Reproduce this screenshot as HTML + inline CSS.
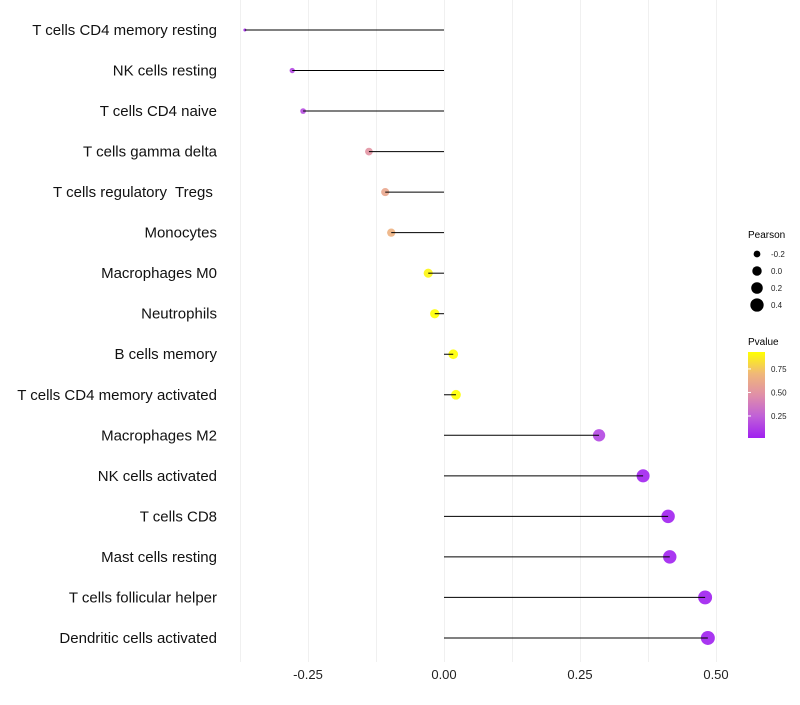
<!DOCTYPE html>
<html><head><meta charset="utf-8"><style>
body{margin:0;background:#fff;}
svg{font-family:"Liberation Sans",sans-serif;}
text{white-space:pre;}
</style></head><body>
<svg id="chart" width="800" height="700">
<g id="grid"></g>
<g id="marks"></g>
<g id="ylabels"></g>
<g id="xlabels"></g>
<g>
<text x="748" y="238" font-size="10">Pearson</text>
<g id="sizeleg"></g>
</g>
<g>
<text x="748" y="345" font-size="10">Pvalue</text>
<defs><linearGradient id="pg" x1="0" y1="1" x2="0" y2="0">
<stop offset="0" stop-color="#a020f0"/><stop offset="0.25" stop-color="#c060d8"/><stop offset="0.5" stop-color="#e08fa8"/><stop offset="0.75" stop-color="#f0b878"/><stop offset="1" stop-color="#ffff00"/></linearGradient></defs>
<rect x="748" y="352" width="17" height="86" fill="url(#pg)"/>
<g id="colleg"></g>
</g>
</svg>
<script>
const categories=["T cells CD4 memory resting","NK cells resting","T cells CD4 naive","T cells gamma delta","T cells regulatory  Tregs ","Monocytes","Macrophages M0","Neutrophils","B cells memory","T cells CD4 memory activated","Macrophages M2","NK cells activated","T cells CD8","Mast cells resting","T cells follicular helper","Dendritic cells activated"];
const pearson=[-0.366,-0.279,-0.259,-0.138,-0.108,-0.097,-0.029,-0.017,0.017,0.022,0.285,0.366,0.412,0.415,0.480,0.485];
const pvalues=[0.05,0.15,0.17,0.5,0.6,0.66,0.9,0.95,0.95,0.94,0.15,0.03,0.02,0.02,0.01,0.01];
const xTicks=[-0.25,0,0.25,0.5];
const xTickLabels=["-0.25","0.00","0.25","0.50"];
const sizeLegendVals=[-0.2,0,0.2,0.4];
const colorLegendVals=[0.25,0.5,0.75];
const NS="http://www.w3.org/2000/svg";
const x=v=>444+v*544;
const y=i=>30+i*40.53;
const rad=v=>Math.sqrt(Math.max(1,22.4+54.9*v));
const stops=[[0,[160,32,240]],[0.25,[192,96,216]],[0.5,[224,143,168]],[0.75,[240,184,120]],[1,[255,255,0]]];
function col(p){const t=Math.min(1,Math.max(0,(p-0.016)/(0.93-0.016)));
for(let k=1;k<stops.length;k++){if(t<=stops[k][0]){const a=stops[k-1],b=stops[k];const f=(t-a[0])/(b[0]-a[0]);
return "rgb("+a[1].map((c,j)=>Math.round(c+(b[1][j]-c)*f)).join(",")+")";}}return "rgb(255,255,0)";}
function mk(tag,at,par){const e=document.createElementNS(NS,tag);for(const k in at)e.setAttribute(k,at[k]);document.getElementById(par).appendChild(e);return e;}
for(let g=-0.375;g<=0.51;g+=0.125){const gx=Math.round(x(g))+0.5;const l=mk("line",{x1:gx,x2:gx,y1:0,y2:662,stroke:"#f0f0f0","stroke-width":1},"grid");

}
xTicks.forEach((t,i)=>{const e=mk("text",{x:x(t),y:679,"font-size":13,"text-anchor":"middle",fill:"#222"},"xlabels");e.textContent=xTickLabels[i];

});
categories.forEach((c,i)=>{
const t=mk("text",{x:217,y:y(i)+5,"font-size":15,"text-anchor":"end",fill:"#111"},"ylabels");t.textContent=c;


const d=mk("circle",{cx:x(pearson[i]),cy:y(i),r:rad(pearson[i]),fill:col(pvalues[i]),"fill-opacity":0.9},"marks");


const s=mk("line",{x1:x(0),x2:x(pearson[i]),y1:y(i),y2:y(i),stroke:"#000","stroke-width":1},"marks");


});
sizeLegendVals.forEach((v,i)=>{const cy=254+i*17;
const c=mk("circle",{cx:757,cy:cy,r:rad(v),fill:"#000"},"sizeleg");


const t=mk("text",{x:771,y:cy+3,"font-size":8,fill:"#222"},"sizeleg");t.textContent=v.toFixed(1);

});
colorLegendVals.forEach(v=>{const cy=438-(v-0.016)/(0.93-0.016)*86;
const l=mk("line",{x1:748,x2:751,y1:cy,y2:cy,stroke:"#fff"},"colleg");


const t=mk("text",{x:771,y:cy+3,"font-size":8,fill:"#222"},"colleg");t.textContent=v.toFixed(2);

});
</script>
</body></html>
